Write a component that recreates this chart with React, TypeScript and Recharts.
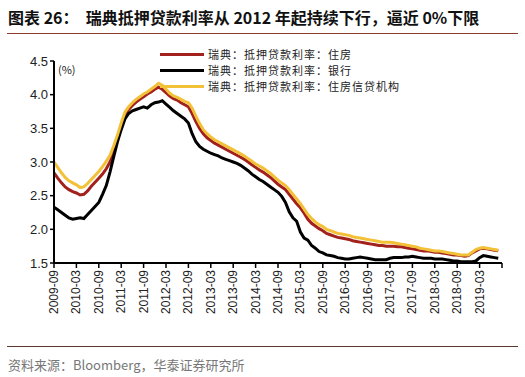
import React from 'react';
import { LineChart, Line, XAxis, YAxis } from 'recharts';

// Monthly categories 2009-09 .. 2019-09
const START_YEAR = 2009;
const START_MONTH = 9;
const MONTH_COUNT = 121;
const months: string[] = [];
for (let i = 0; i < MONTH_COUNT; i++) {
  const t = START_MONTH - 1 + i;
  const y = START_YEAR + Math.floor(t / 12);
  const m = (t % 12) + 1;
  months.push(`${y}-${m < 10 ? '0' + m : m}`);
}

const tickLabels = [
  '2009-09', '2010-03', '2010-09', '2011-03', '2011-09', '2012-03', '2012-09',
  '2013-03', '2013-09', '2014-03', '2014-09', '2015-03', '2015-09', '2016-03',
  '2016-09', '2017-03', '2017-09', '2018-03', '2018-09', '2019-03', '2019-09',
];

const yTicks = [1.5, 2.0, 2.5, 3.0, 3.5, 4.0, 4.5];

const seriesNames = ['瑞典：抵押贷款利率：住房', '瑞典：抵押贷款利率：银行', '瑞典：抵押贷款利率：住房信贷机构'];

const housing = [
  2.84, 2.76, 2.69, 2.63, 2.59, 2.56, 2.54, 2.51, 2.52, 2.57, 2.64, 2.70,
  2.76, 2.82, 2.90, 3.00, 3.14, 3.35, 3.55, 3.70, 3.78, 3.84, 3.89, 3.93,
  3.97, 4.01, 4.04, 4.08, 4.11, 4.08, 4.03, 3.98, 3.94, 3.92, 3.88, 3.85,
  3.82, 3.72, 3.60, 3.50, 3.42, 3.36, 3.32, 3.28, 3.25, 3.22, 3.19, 3.16,
  3.13, 3.10, 3.07, 3.04, 3.00, 2.96, 2.92, 2.88, 2.85, 2.81, 2.77, 2.72,
  2.67, 2.63, 2.59, 2.52, 2.45, 2.38, 2.32, 2.24, 2.15, 2.09, 2.05, 2.01,
  1.98, 1.94, 1.92, 1.90, 1.88, 1.87, 1.86, 1.85, 1.83, 1.82, 1.81, 1.80,
  1.79, 1.78, 1.77, 1.76, 1.76, 1.75, 1.75, 1.75, 1.74, 1.74, 1.73, 1.72,
  1.71, 1.70, 1.69, 1.68, 1.68, 1.67, 1.66, 1.66, 1.65, 1.64, 1.63, 1.62,
  1.62, 1.61, 1.60, 1.61, 1.65, 1.68, 1.71, 1.72, 1.71, 1.70, 1.69, 1.68,
];

const bank = [
  2.33, 2.29, 2.25, 2.21, 2.17, 2.15, 2.16, 2.17, 2.16, 2.22, 2.28, 2.34,
  2.40, 2.52, 2.65, 2.85, 3.08, 3.30, 3.48, 3.64, 3.72, 3.76, 3.78, 3.80,
  3.82, 3.80, 3.85, 3.88, 3.89, 3.91, 3.86, 3.81, 3.76, 3.72, 3.68, 3.64,
  3.58, 3.42, 3.30, 3.23, 3.19, 3.16, 3.13, 3.11, 3.09, 3.06, 3.04, 3.02,
  3.00, 2.98, 2.95, 2.91, 2.87, 2.82, 2.78, 2.74, 2.71, 2.67, 2.63, 2.59,
  2.55, 2.49, 2.40, 2.26, 2.17, 2.12, 1.96, 1.87, 1.84, 1.76, 1.72, 1.67,
  1.65, 1.62, 1.61, 1.60, 1.58, 1.57, 1.56, 1.56, 1.57, 1.58, 1.59, 1.58,
  1.57, 1.56, 1.55, 1.55, 1.55, 1.55, 1.57, 1.58, 1.58, 1.58, 1.59, 1.59,
  1.60, 1.59, 1.58, 1.57, 1.57, 1.57, 1.56, 1.56, 1.56, 1.55, 1.54, 1.53,
  1.53, 1.52, 1.52, 1.52, 1.52, 1.53, 1.58, 1.61, 1.60, 1.59, 1.58, 1.57,
];

const housingCredit = [
  3.00, 2.92, 2.84, 2.77, 2.72, 2.69, 2.66, 2.62, 2.63, 2.68, 2.74, 2.80,
  2.86, 2.93, 3.01, 3.10, 3.24, 3.40, 3.58, 3.74, 3.82, 3.88, 3.93, 3.97,
  4.01, 4.04, 4.08, 4.12, 4.17, 4.14, 4.08, 4.02, 3.98, 3.96, 3.93, 3.90,
  3.88, 3.80, 3.68, 3.57, 3.48, 3.42, 3.37, 3.33, 3.30, 3.27, 3.24, 3.21,
  3.18, 3.15, 3.12, 3.09, 3.05, 3.01, 2.97, 2.94, 2.91, 2.87, 2.83, 2.78,
  2.73, 2.69, 2.65, 2.59, 2.52, 2.45, 2.38, 2.30, 2.22, 2.16, 2.11, 2.07,
  2.04, 2.00, 1.98, 1.96, 1.94, 1.93, 1.92, 1.91, 1.89, 1.88, 1.87, 1.86,
  1.85, 1.84, 1.83, 1.82, 1.81, 1.81, 1.81, 1.80, 1.79, 1.78, 1.77, 1.76,
  1.75, 1.74, 1.72, 1.71, 1.70, 1.69, 1.68, 1.68, 1.67, 1.66, 1.65, 1.64,
  1.63, 1.62, 1.62, 1.62, 1.66, 1.70, 1.72, 1.73, 1.72, 1.71, 1.70, 1.69,
];

const COLORS = { housing: '#A3211D', bank: '#000000', credit: '#F3C137' };

const data = months.map((d, i) => ({
  date: d,
  housing: i < housing.length ? housing[i] : null,
  bank: i < bank.length ? bank[i] : null,
  credit: i < housingCredit.length ? housingCredit[i] : null,
}));

const XTick = (props: any) => {
  const { x, y, payload } = props;
  if (payload.value === '2019-09') return null;
  return (
    <text
      x={x}
      y={y}
      transform={`rotate(-90, ${x}, ${y})`}
      textAnchor="end"
      dy={4}
      fontSize={12}
      fontFamily="Liberation Sans, Arial, sans-serif"
      fill="#222"
    >
      {payload.value}
    </text>
  );
};

const legendItems = [
  { name: seriesNames[0], color: COLORS.housing },
  { name: seriesNames[1], color: COLORS.bank },
  { name: seriesNames[2], color: COLORS.credit },
];

export default function App() {
  return (
    <div
      style={{
        position: 'fixed',
        left: 0,
        top: 0,
        width: 525,
        height: 377,
        background: '#fff',
        fontFamily: '"Noto Sans CJK SC", sans-serif',
        overflow: 'hidden',
      }}
    >
      <div
        style={{
          position: 'absolute',
          left: 8,
          top: 6,
          fontSize: 16,
          fontWeight: 700,
          color: '#111',
          whiteSpace: 'pre',
          lineHeight: '22px',
        }}
      >
        {'图表 26：  瑞典抵押贷款利率从 2012 年起持续下行，逼近 0%下限'}
      </div>
      <div style={{ position: 'absolute', left: 7, top: 33, width: 511, height: 1, background: '#8B3A2E' }} />

      <LineChart
        width={525}
        height={377}
        data={data}
        margin={{ top: 61, right: 23, bottom: 0, left: 0 }}
        style={{ position: 'absolute', left: 0, top: 0 }}
      >
        <XAxis
          dataKey="date"
          ticks={tickLabels}
          interval={0}
          height={114}
          tick={<XTick />}
          tickSize={5}
          tickLine={{ stroke: '#000', strokeWidth: 1.5 }}
          axisLine={{ stroke: '#000', strokeWidth: 2 }}
          padding={{ left: 0, right: 0 }}
        />
        <YAxis
          domain={[1.5, 4.5]}
          ticks={yTicks}
          width={54}
          tickSize={4}
          tickFormatter={(v: number) => v.toFixed(1)}
          tick={{ fontSize: 13, fill: '#222', fontFamily: 'Liberation Sans, Arial, sans-serif' }}
          tickLine={{ stroke: '#000', strokeWidth: 1.5 }}
          axisLine={{ stroke: '#000', strokeWidth: 2 }}
          allowDataOverflow
        />
        <Line type="linear" dataKey="housing" stroke={COLORS.housing} strokeWidth={3} dot={false} isAnimationActive={false} />
        <Line type="linear" dataKey="bank" stroke={COLORS.bank} strokeWidth={3} dot={false} isAnimationActive={false} />
        <Line type="linear" dataKey="credit" stroke={COLORS.credit} strokeWidth={3} dot={false} isAnimationActive={false} />
      </LineChart>

      <div style={{ position: 'absolute', left: 58, top: 62, fontSize: 11, lineHeight: '14px', color: '#222' }}>(%)</div>

      {legendItems.map((it, i) => (
        <div
          key={it.name}
          style={{ position: 'absolute', left: 160, top: 46 + i * 16, height: 16, display: 'flex', alignItems: 'center' }}
        >
          <div style={{ width: 44, height: 3, background: it.color, marginRight: 4 }} />
          <div style={{ fontSize: 11, lineHeight: '16px', letterSpacing: 1, color: '#222', whiteSpace: 'nowrap' }}>
            {it.name}
          </div>
        </div>
      ))}

      <div style={{ position: 'absolute', left: 7, top: 346, width: 511, height: 1, background: '#5A3A30' }} />
      <div style={{ position: 'absolute', left: 8, top: 356, fontSize: 13, lineHeight: '17px', color: '#777', whiteSpace: 'nowrap' }}>
        资料来源：Bloomberg，华泰证券研究所
      </div>
    </div>
  );
}
